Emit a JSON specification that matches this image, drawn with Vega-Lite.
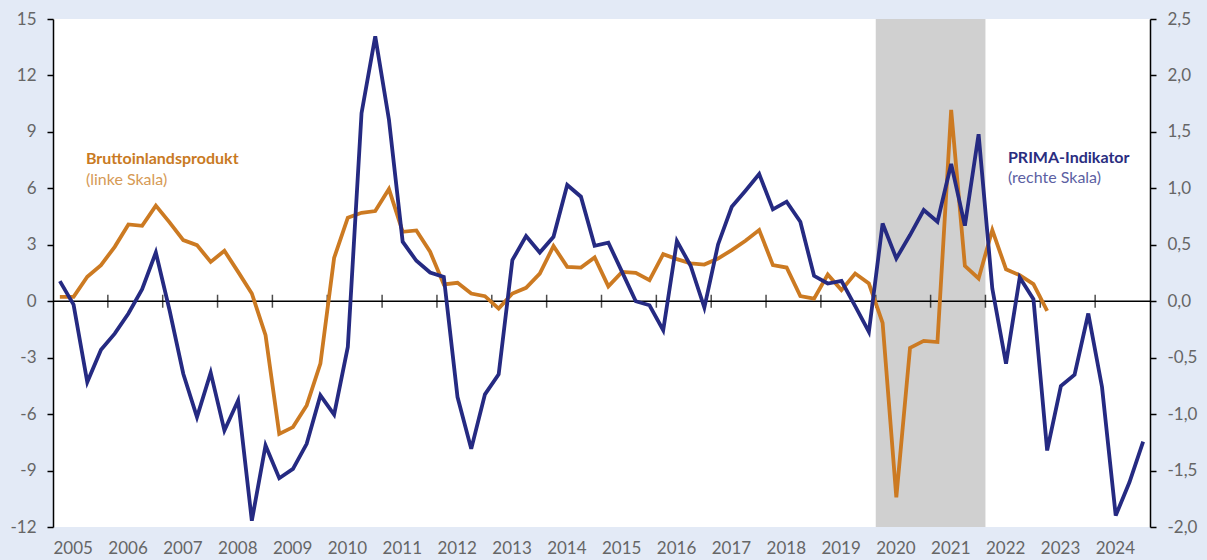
{
  "$schema": "https://vega.github.io/schema/vega-lite/v6.json",
  "width": 1097,
  "height": 508,
  "autosize": {"type": "none"},
  "padding": {"left": 53, "top": 19, "right": 57, "bottom": 33},
  "background": "#e3eaf6",
  "config": {
    "view": {"fill": "white", "stroke": null},
    "axis": {"labelFont": "Lato", "labelFontSize": 17, "labelColor": "#666666", "grid": false, "domainColor": "#000000", "domainWidth": 1.5, "tickColor": "#000000", "tickWidth": 1.5, "tickSize": 6}
  },
  "datasets": {
    "series": [
      {"t": 2005.125, "bip": 0.23, "prima": 0.178},
      {"t": 2005.375, "bip": 0.23, "prima": -0.03},
      {"t": 2005.625, "bip": 1.30, "prima": -0.716},
      {"t": 2005.875, "bip": 1.92, "prima": -0.429},
      {"t": 2006.125, "bip": 2.89, "prima": -0.287},
      {"t": 2006.375, "bip": 4.08, "prima": -0.109},
      {"t": 2006.625, "bip": 4.01, "prima": 0.107},
      {"t": 2006.875, "bip": 5.08, "prima": 0.432},
      {"t": 2007.125, "bip": 4.19, "prima": -0.08},
      {"t": 2007.375, "bip": 3.25, "prima": -0.642},
      {"t": 2007.625, "bip": 2.98, "prima": -1.027},
      {"t": 2007.875, "bip": 2.09, "prima": -0.633},
      {"t": 2008.125, "bip": 2.68, "prima": -1.145},
      {"t": 2008.375, "bip": 1.56, "prima": -0.879},
      {"t": 2008.625, "bip": 0.41, "prima": -1.944},
      {"t": 2008.875, "bip": -1.81, "prima": -1.278},
      {"t": 2009.125, "bip": -7.05, "prima": -1.568},
      {"t": 2009.375, "bip": -6.69, "prima": -1.485},
      {"t": 2009.625, "bip": -5.54, "prima": -1.263},
      {"t": 2009.875, "bip": -3.32, "prima": -0.834},
      {"t": 2010.125, "bip": 2.3, "prima": -1.005},
      {"t": 2010.375, "bip": 4.44, "prima": -0.405},
      {"t": 2010.625, "bip": 4.70, "prima": 1.666},
      {"t": 2010.875, "bip": 4.79, "prima": 2.346},
      {"t": 2011.125, "bip": 5.96, "prima": 1.607},
      {"t": 2011.375, "bip": 3.69, "prima": 0.527},
      {"t": 2011.625, "bip": 3.76, "prima": 0.358},
      {"t": 2011.875, "bip": 2.63, "prima": 0.254},
      {"t": 2012.125, "bip": 0.89, "prima": 0.216},
      {"t": 2012.375, "bip": 0.98, "prima": -0.849},
      {"t": 2012.625, "bip": 0.41, "prima": -1.308},
      {"t": 2012.875, "bip": 0.27, "prima": -0.825},
      {"t": 2013.125, "bip": -0.39, "prima": -0.648},
      {"t": 2013.375, "bip": 0.41, "prima": 0.364},
      {"t": 2013.625, "bip": 0.71, "prima": 0.577},
      {"t": 2013.875, "bip": 1.47, "prima": 0.432},
      {"t": 2014.125, "bip": 2.93, "prima": 0.571},
      {"t": 2014.375, "bip": 1.83, "prima": 1.03},
      {"t": 2014.625, "bip": 1.79, "prima": 0.926},
      {"t": 2014.875, "bip": 2.33, "prima": 0.491},
      {"t": 2015.125, "bip": 0.79, "prima": 0.518},
      {"t": 2015.375, "bip": 1.56, "prima": 0.26},
      {"t": 2015.625, "bip": 1.51, "prima": 0.0},
      {"t": 2015.875, "bip": 1.12, "prima": -0.036},
      {"t": 2016.125, "bip": 2.50, "prima": -0.257},
      {"t": 2016.375, "bip": 2.24, "prima": 0.533},
      {"t": 2016.625, "bip": 2.01, "prima": 0.314},
      {"t": 2016.875, "bip": 1.95, "prima": -0.056},
      {"t": 2017.125, "bip": 2.27, "prima": 0.503},
      {"t": 2017.375, "bip": 2.72, "prima": 0.837},
      {"t": 2017.625, "bip": 3.21, "prima": 0.979},
      {"t": 2017.875, "bip": 3.78, "prima": 1.127},
      {"t": 2018.125, "bip": 1.92, "prima": 0.814},
      {"t": 2018.375, "bip": 1.79, "prima": 0.882},
      {"t": 2018.625, "bip": 0.27, "prima": 0.704},
      {"t": 2018.875, "bip": 0.14, "prima": 0.225},
      {"t": 2019.125, "bip": 1.42, "prima": 0.157},
      {"t": 2019.375, "bip": 0.59, "prima": 0.18},
      {"t": 2019.625, "bip": 1.47, "prima": -0.044},
      {"t": 2019.875, "bip": 0.94, "prima": -0.272},
      {"t": 2020.125, "bip": -1.15, "prima": 0.689},
      {"t": 2020.375, "bip": -10.42, "prima": 0.379},
      {"t": 2020.625, "bip": -2.48, "prima": 0.586},
      {"t": 2020.875, "bip": -2.11, "prima": 0.808},
      {"t": 2021.125, "bip": -2.17, "prima": 0.704},
      {"t": 2021.375, "bip": 10.17, "prima": 1.216},
      {"t": 2021.625, "bip": 1.88, "prima": 0.669},
      {"t": 2021.875, "bip": 1.21, "prima": 1.479},
      {"t": 2022.125, "bip": 3.78, "prima": 0.112},
      {"t": 2022.375, "bip": 1.70, "prima": -0.553},
      {"t": 2022.625, "bip": 1.38, "prima": 0.21},
      {"t": 2022.875, "bip": 0.91, "prima": 0.018},
      {"t": 2023.125, "bip": -0.51, "prima": -1.322},
      {"t": 2023.375, "bip": null, "prima": -0.751},
      {"t": 2023.625, "bip": null, "prima": -0.651},
      {"t": 2023.875, "bip": null, "prima": -0.109},
      {"t": 2024.125, "bip": null, "prima": -0.76},
      {"t": 2024.375, "bip": null, "prima": -1.899},
      {"t": 2024.625, "bip": null, "prima": -1.604},
      {"t": 2024.875, "bip": null, "prima": -1.243}
    ],
    "years": [
      {"t": 2006}, {"t": 2007}, {"t": 2008}, {"t": 2009}, {"t": 2010}, {"t": 2011}, {"t": 2012}, {"t": 2013}, {"t": 2014}, {"t": 2015},
      {"t": 2016}, {"t": 2017}, {"t": 2018}, {"t": 2019}, {"t": 2020}, {"t": 2021}, {"t": 2022}, {"t": 2023}, {"t": 2024}
    ],
    "covid": [{"t": 2020, "t2": 2022}]
  },
  "layer": [
    {
      "layer": [
        {
          "data": {"name": "covid"},
          "mark": {"type": "rect", "color": "#d0d0d0"},
          "encoding": {
            "x": {"field": "t", "type": "quantitative", "scale": {"domain": [2005, 2025], "nice": false, "zero": false}, "title": null,
              "axis": {"values": [2005, 2006, 2007, 2008, 2009, 2010, 2011, 2012, 2013, 2014, 2015, 2016, 2017, 2018, 2019, 2020, 2021, 2022, 2023, 2024], "format": "d", "labelAlign": "left", "domain": false, "ticks": false, "labelPadding": 13, "labelFlush": false}},
            "x2": {"field": "t2"}
          }
        },
        {
          "data": {"values": [{"k": 0}]},
          "mark": {"type": "rule", "color": "#000000", "strokeWidth": 1.5},
          "encoding": {"x": {"value": 0}, "x2": {"value": 1097}, "y": {"datum": 0, "type": "quantitative", "title": null}}
        },
        {
          "data": {"name": "years"},
          "mark": {"type": "tick", "orient": "vertical", "size": 13, "thickness": 1.5, "color": "#000000"},
          "encoding": {
            "x": {"field": "t", "type": "quantitative", "title": null},
            "y": {"datum": 0, "type": "quantitative", "title": null}
          }
        },
        {
          "data": {"name": "series"},
          "mark": {"type": "line", "color": "#cc7a22", "strokeWidth": 3.8, "strokeJoin": "miter"},
          "encoding": {
            "x": {"field": "t", "type": "quantitative", "title": null},
            "y": {
              "field": "bip", "type": "quantitative",
              "scale": {"domain": [-12, 15], "nice": false, "zero": false},
              "title": null,
              "axis": {"orient": "left", "values": [-12, -9, -6, -3, 0, 3, 6, 9, 12, 15], "labelExpr": "'' + datum.value", "labelPadding": 11}
            }
          }
        },
        {
          "data": {"values": [{"label": "Bruttoinlandsprodukt"}]},
          "mark": {"type": "text", "font": "Lato", "fontSize": 16, "fontWeight": "bold", "fill": "#c97a23", "align": "left", "baseline": "alphabetic"},
          "encoding": {"text": {"field": "label"}, "x": {"datum": 2005.6, "type": "quantitative"}, "y": {"datum": 7.28, "type": "quantitative", "title": null}}
        },
        {
          "data": {"values": [{"label": "(linke Skala)"}]},
          "mark": {"type": "text", "font": "Lato", "fontSize": 16, "fill": "#d69a55", "align": "left", "baseline": "alphabetic"},
          "encoding": {"text": {"field": "label"}, "x": {"datum": 2005.6, "type": "quantitative"}, "y": {"datum": 6.16, "type": "quantitative", "title": null}}
        },
        {
          "data": {"values": [{"label": "PRIMA-Indikator"}]},
          "mark": {"type": "text", "font": "Lato", "fontSize": 16, "fontWeight": "bold", "fill": "#2a2d80", "align": "left", "baseline": "alphabetic"},
          "encoding": {"text": {"field": "label"}, "x": {"datum": 2022.41, "type": "quantitative"}, "y": {"datum": 7.37, "type": "quantitative", "title": null}}
        },
        {
          "data": {"values": [{"label": "(rechte Skala)"}]},
          "mark": {"type": "text", "font": "Lato", "fontSize": 16, "fill": "#5c5fa3", "align": "left", "baseline": "alphabetic"},
          "encoding": {"text": {"field": "label"}, "x": {"datum": 2022.41, "type": "quantitative"}, "y": {"datum": 6.28, "type": "quantitative", "title": null}}
        }
      ]
    },
    {
      "data": {"name": "series"},
      "mark": {"type": "line", "color": "#252a82", "strokeWidth": 3.8, "strokeJoin": "miter"},
      "encoding": {
        "x": {"field": "t", "type": "quantitative", "title": null},
        "y": {
          "field": "prima", "type": "quantitative",
          "scale": {"domain": [-2, 2.5], "nice": false, "zero": false},
          "title": null,
          "axis": {"orient": "right", "values": [-2, -1.5, -1, -0.5, 0, 0.5, 1, 1.5, 2, 2.5], "labelExpr": "replace(replace(format(datum.value, '.1f'), '.', ','), '\u2212', '-')", "labelPadding": 11}
        }
      }
    }
  ],
  "resolve": {"scale": {"y": "independent"}}
}
